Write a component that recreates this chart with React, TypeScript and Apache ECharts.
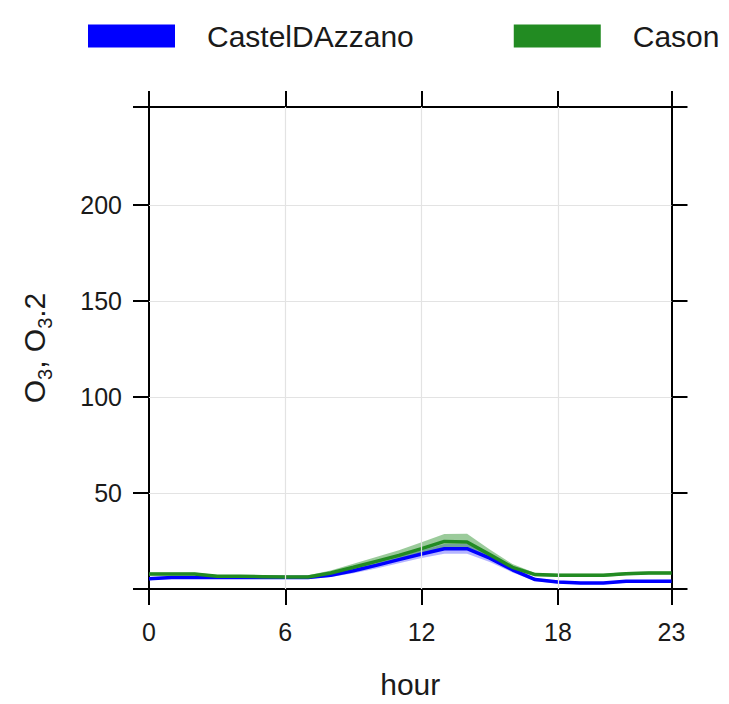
import React, { useEffect, useRef } from "react";
import * as echarts from "echarts";

const hours = [0, 1, 2, 3, 4, 5, 6, 7, 8, 9, 10, 11, 12, 13, 14, 15, 16, 17, 18, 19, 20, 21, 22, 23];
const castel = [5.4, 6, 6, 6, 6, 6, 6, 6, 7.1, 9.5, 12.3, 15.3, 18.2, 21, 21, 16.1, 10, 4.9, 3.6, 3.1, 3.1, 4, 4, 4];
const castelLo = [4.6, 5.3, 5.3, 5.3, 5.3, 5.3, 5.3, 5.3, 6.2, 8.2, 10.7, 13.4, 16.2, 18.3, 18.4, 14.1, 8.6, 4.1, 2.9, 2.5, 2.5, 3.3, 3.3, 3.3];
const castelHi = [6.2, 6.7, 6.7, 6.7, 6.7, 6.7, 6.7, 6.8, 8.0, 10.8, 13.9, 17.2, 20.2, 23.4, 23.5, 18.0, 11.4, 5.7, 4.3, 3.7, 3.7, 4.7, 4.7, 4.8];
const cason = [7.8, 7.8, 7.8, 6.6, 6.6, 6.4, 6.2, 6.2, 8.3, 11.3, 14.4, 17.5, 21, 24.8, 24.5, 17.9, 11.3, 7.5, 7.1, 7.1, 7.1, 8, 8.3, 8.3];
const casonLo = [7.0, 7.0, 7.0, 5.9, 5.9, 5.6, 5.4, 5.4, 7.2, 9.6, 12.2, 14.9, 17.8, 21.2, 21.0, 15.4, 9.7, 6.7, 6.3, 6.3, 6.3, 7.2, 7.5, 7.5];
const casonHi = [8.6, 8.6, 8.6, 7.3, 7.3, 7.2, 7.0, 7.1, 9.6, 13.1, 16.7, 20.2, 24.3, 28.6, 28.8, 20.6, 13.0, 8.3, 7.9, 7.9, 7.9, 8.8, 9.1, 9.1];

const xTicks = [0, 6, 12, 18, 23];
const yTicks = [0, 50, 100, 150, 200, 251];
const yLabels = [50, 100, 150, 200];
const xGrid = [6, 12, 18];
const yGrid = [50, 100, 150, 200];

const FONT = "'Liberation Sans', Arial, sans-serif";
const TXT = "#1a1a1a";

function bandSeries(name: string, lo: number[], hi: number[], color: string) {
  return {
    type: "custom",
    name,
    silent: true,
    data: [0],
    renderItem: (_params: any, api: any) => {
      const pts: number[][] = [];
      for (let i = 0; i < hours.length; i++) pts.push(api.coord([hours[i], hi[i]]));
      for (let i = hours.length - 1; i >= 0; i--) pts.push(api.coord([hours[i], lo[i]]));
      return {
        type: "polygon",
        shape: { points: pts },
        style: { fill: color, stroke: "none" },
      };
    },
  };
}

export default function App() {
  const ref = useRef<HTMLDivElement>(null);
  useEffect(() => {
    document.body.style.margin = "0";
    const chart = echarts.init(ref.current!, null, { renderer: "svg" });
    const tickStyle = { show: true, length: 16, inside: false, lineStyle: { color: "#000", width: 2 } };
    const lineStyle = { show: true, onZero: false, lineStyle: { color: "#000", width: 2 } };
    chart.setOption({
      animation: false,
      backgroundColor: "#fff",
      textStyle: { fontFamily: FONT },
      legend: {
        data: ["CastelDAzzano", "Cason"],
        left: 88,
        top: 21,
        padding: 0,
        icon: "rect",
        itemWidth: 87,
        itemHeight: 23,
        itemGap: 100,
        textStyle: { fontSize: 30, color: TXT, fontFamily: FONT, padding: [0, 0, 0, 27] },
      },
      grid: { left: 149, right: 57.5, top: 107, bottom: 111 },
      xAxis: [
        {
          type: "value",
          position: "bottom",
          min: 0,
          max: 23,
          name: "hour",
          nameLocation: "middle",
          nameGap: 80,
          nameTextStyle: { fontSize: 30, color: TXT, fontFamily: FONT },
          axisLine: lineStyle,
          axisTick: { ...tickStyle, customValues: xTicks },
          axisLabel: { customValues: xTicks, fontSize: 25, color: TXT, margin: 30, fontFamily: FONT },
          splitLine: { show: false },
        },
        {
          type: "value",
          position: "top",
          min: 0,
          max: 23,
          axisLine: lineStyle,
          axisTick: { ...tickStyle, customValues: xTicks },
          axisLabel: { show: false },
          splitLine: { show: false },
        },
      ],
      yAxis: [
        {
          type: "value",
          position: "left",
          min: 0,
          max: 251,
          name: "{a|O}{s|3}{a|, O}{s|3}{a|.2}",
          nameLocation: "middle",
          nameGap: 100,
          nameTextStyle: {
            fontFamily: FONT,
            color: TXT,
            rich: {
              a: { fontSize: 30, color: TXT, fontFamily: FONT, lineHeight: 36, verticalAlign: "bottom" },
              s: { fontSize: 20, color: TXT, fontFamily: FONT, lineHeight: 36, verticalAlign: "bottom", padding: [0, 0, -6, 0] },
            },
          },
          axisLine: lineStyle,
          axisTick: { ...tickStyle, customValues: yTicks },
          axisLabel: { customValues: yLabels, fontSize: 25, color: TXT, margin: 27, fontFamily: FONT },
          splitLine: { show: false },
        },
        {
          type: "value",
          position: "right",
          min: 0,
          max: 251,
          axisLine: lineStyle,
          axisTick: { ...tickStyle, customValues: yTicks },
          axisLabel: { show: false },
          splitLine: { show: false },
        },
      ],
      series: [
        {
          type: "line",
          name: "grid",
          data: [],
          silent: true,
          markLine: {
            silent: true,
            symbol: "none",
            label: { show: false },
            lineStyle: { color: "#e3e3e3", width: 1.2, type: "solid" },
            data: [...xGrid.map((v) => ({ xAxis: v })), ...yGrid.map((v) => ({ yAxis: v }))],
          },
        },
        bandSeries("castelBand", castelLo, castelHi, "rgba(70,70,255,0.4)"),
        {
          type: "line",
          name: "CastelDAzzano",
          data: hours.map((h, i) => [h, castel[i]]),
          symbol: "none",
          color: "#0000ff",
          lineStyle: { color: "#0000ff", width: 3.5 },
          itemStyle: { color: "#0000ff" },
        },
        bandSeries("casonBand", casonLo, casonHi, "rgba(34,139,34,0.45)"),
        {
          type: "line",
          name: "Cason",
          data: hours.map((h, i) => [h, cason[i]]),
          symbol: "none",
          color: "#228b22",
          lineStyle: { color: "#228b22", width: 3.5 },
          itemStyle: { color: "#228b22" },
        },
      ],
    });
    return () => chart.dispose();
  }, []);
  return <div ref={ref} style={{ width: 729, height: 704 }} />;
}
